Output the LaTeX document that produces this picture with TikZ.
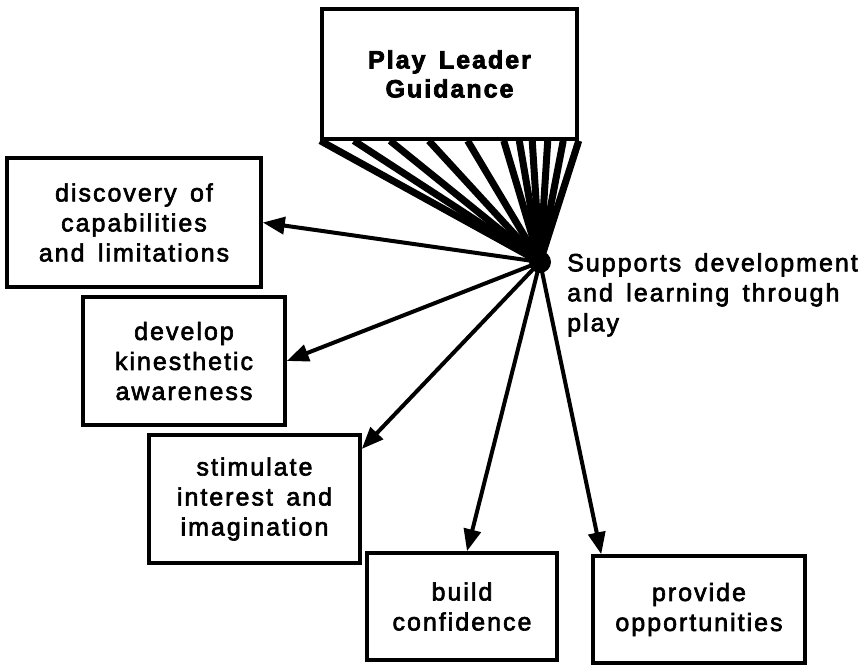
\documentclass[tikz,border=0pt]{standalone}
\usepackage{fontspec}
\setmainfont{Liberation Sans}[LetterSpace=8, WordSpace=1.5, FakeBold=2.5, BoldFeatures={FakeBold=3}]
\usetikzlibrary{arrows.meta,calc}
\tikzset{
  every picture/.style={>={Triangle[length=22pt,width=17pt]}, font=\fontsize{25}{30}\selectfont},
  box/.style={draw, line width=3.5pt, align=center, inner sep=0pt},
  fan/.style={line width=7pt},
  link/.style={->, line width=4pt},
}

\begin{document}
\begin{tikzpicture}[x=1pt,y=-1pt]
  \useasboundingbox (0,0) rectangle (863,666);
  \node[box, minimum width=255pt, minimum height=130pt, font=\fontsize{25}{29}\selectfont\bfseries] (guide) at (449.5,74) {Play Leader\\Guidance};
  \node[circle, fill, inner sep=0pt, minimum size=22pt] (hub) at (540,262) {};
  % fan of lines from the guidance box down to the hub
  \foreach \t in {0,0.13,0.27,0.42,0.57,0.71,0.77,0.82,0.88,0.94,1}
    \draw[fan] ($(guide.south west)!\t!(guide.south east)$) -- (hub.center);
  \node[anchor=north west, align=left, inner sep=0pt] (note) at (567,253) {Supports development\\and learning through\\play};

  \node[box, minimum width=254pt, minimum height=129pt] (disc) at (134,222.5) {discovery of\\capabilities\\and limitations};
  \node[box, minimum width=202pt, minimum height=128pt] (dev) at (184,361) {develop\\kinesthetic\\awareness};
  \node[box, minimum width=211pt, minimum height=128pt] (stim) at (254.5,499) {stimulate\\interest and\\imagination};
  \node[box, minimum width=190pt, minimum height=107pt] (build) at (462,606.5) {build\\confidence};
  \node[box, minimum width=212pt, minimum height=107pt] (prov) at (699,609.5) {provide\\opportunities};

  \draw[link] (hub.center) -- (disc.east);
  \draw[link] (hub.center) -- (dev.east);
  \draw[link] (hub.center) -- (stim.25);
  \draw[link] (hub.center) -- ([xshift=5pt]build.north);
  \draw[link] (hub.center) -- ([xshift=10pt]prov.north west);
\end{tikzpicture}
\end{document}
